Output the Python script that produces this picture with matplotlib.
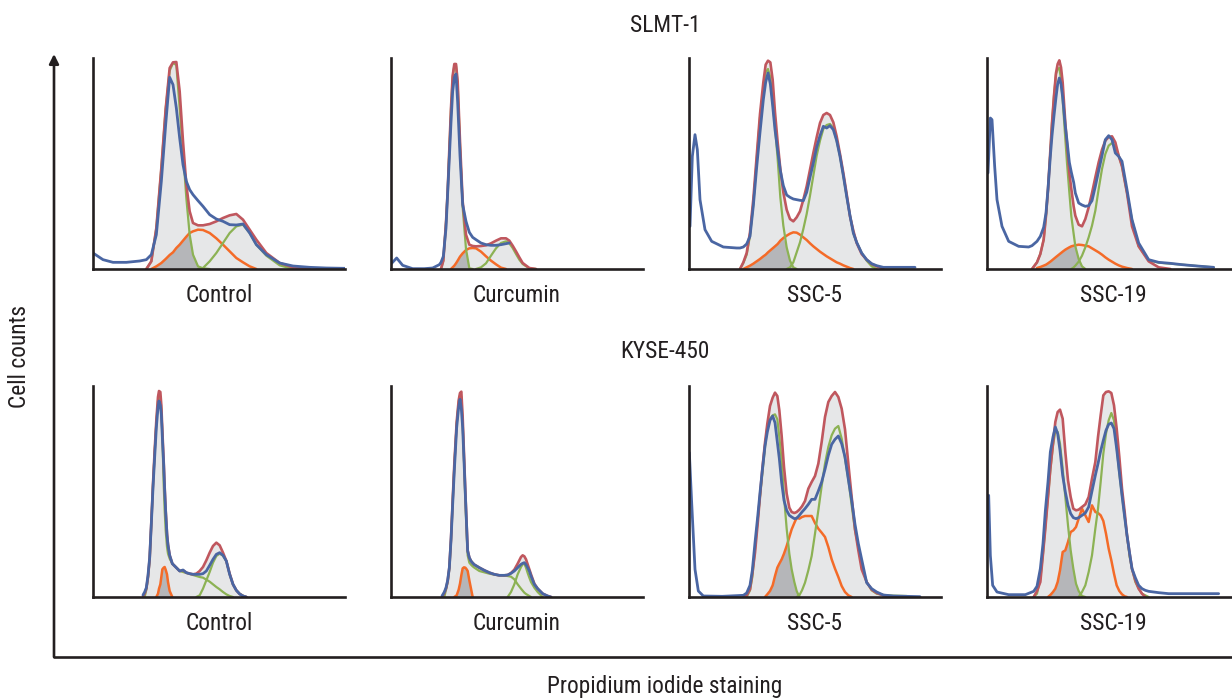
import numpy as np
import matplotlib
matplotlib.use('Agg')
import matplotlib.pyplot as plt
from matplotlib import font_manager
from matplotlib.lines import Line2D
from matplotlib.patches import FancyArrowPatch

# pick a condensed face if one is installed
installed = {f.name for f in font_manager.fontManager.ttflist}
narrow = [n for n in ['Liberation Sans Narrow', 'DejaVu Sans Condensed', 'Roboto Condensed',
                      'Open Sans Condensed', 'Noto Sans Condensed'] if n in installed]
plt.rcParams['font.family'] = narrow[:1] + ['DejaVu Sans']
stretch = 'normal' if narrow else 'condensed'

N = np.nan

# PI channel (x) and counts (y)
# --- SLMT-1, Control
slmt_ctrl_x = [0, 30, 60, 100, 140, 160, 175, 190, 205, 218, 230, 240, 250, 260, 270, 280, 290, 300, 315, 330,
               350, 370, 390, 410, 430, 450, 470, 490, 520, 560, 600, 650, 700, 756]
slmt_ctrl_blue = [48, 28, 20, 20, 24, 28, 43, 103, 263, 433, 575, 553, 483, 393, 313, 263, 238, 223, 205, 188,
                  163, 150, 143, 133, 132, 135, 108, 73, 43, 18, 9, 5, 3, 2]
slmt_ctrl_red = [N, N, N, N, N, 0, 23, 123, 303, 480, 603, 620, 621, 533, 383, 253, 173, 138, 131, 131,
                 135, 143, 153, 161, 165, 148, 118, 88, 48, 18, 5, 0, N, N]
slmt_ctrl_g1 = [N, N, N, N, N, 0, 23, 123, 303, 480, 595, 618, 612, 483, 353, 213, 103, 43, 8, 2,
                0, N, N, N, N, N, N, N, N, N, N, N, N, N]
slmt_ctrl_g2 = [N] * 18 + [0, 3, 23, 48, 78, 108, 128, 133, 108, 73, 40, 11, 0] + [N] * 3
slmt_ctrl_orange = [N] * 6 + [0, 8, 18, 30, 42, 50, 63, 73, 85, 97, 108, 113, 118, 117, 108, 92, 73, 53, 33, 20,
                              8, 0] + [N] * 6

# --- SLMT-1, Curcumin
slmt_curc_x = [0, 17, 35, 65, 100, 125, 145, 150, 157, 165, 170, 175, 180, 185, 190, 195, 200, 207, 215, 225,
               235, 245, 255, 270, 285, 300, 315, 330, 345, 355, 365, 375, 385, 395, 415, 435, 500, 600, 756]
slmt_curc_blue = [15, 33, 11, 1, 1, 3, 13, 20, 38, 123, 228, 333, 440, 533, 575, 585, 500, 340, 193, 143,
                  110, 95, 88, 78, 73, 71, 71, 73, 76, 78] + [N] * 9
slmt_curc_red = [N] * 7 + [0, 25, 140, 233, 360, 483, 580, 615, 615, 563, 383, 203, 103, 73, 69, 68, 69, 71, 77,
                           85, 92, 92, 85, 70, 53, 35, 18, 3, 0] + [N] * 3
slmt_curc_g1 = [N] * 7 + [0, 25, 140, 233, 358, 480, 575, 610, 610, 555, 372, 185, 60, 2, 0] + [N] * 17
slmt_curc_g2 = [N] * 22 + [0, 5, 17, 40, 62, 78, 83, 77, 63, 45, 28, 15, 2, 0] + [N] * 3
slmt_curc_orange = [N] * 12 + [0, 5, 10, 17, 25, 37, 47, 57, 62, 63, 62, 52, 38, 25, 14, 4, 0] + [N] * 10

# --- SLMT-1, SSC-5
slmt_ssc5_x = [3, 10, 18, 25, 33, 48, 68, 103, 143, 153, 163, 173, 183, 193, 203, 213, 223, 230, 237, 244,
               251, 258, 266, 274, 283, 293, 303, 313, 323, 333, 343, 353, 363, 373, 383, 393, 403, 413, 423, 433,
               443, 453, 463, 473, 483, 493, 503, 518, 533, 548, 563, 583, 630, 678]
slmt_ssc5_blue = [128, 338, 403, 358, 208, 118, 83, 66, 63, 63, 66, 75, 98, 190, 305, 410, 508, 560, 588, 555,
                  490, 418, 355, 295, 250, 222, 215, 210, 208, 206, 205, 230, 275, 318, 365, 400, 428, 423, 430, 418,
                  385, 338, 280, 218, 160, 108, 80, 48, 28, 16, 10, 5, 5, 5]
slmt_ssc5_red = [N] * 9 + [0, 20, 48, 110, 210, 338, 465, 560, 613, 625, 620, 568, 470, 380, 300, 230, 178, 150,
                           143, 155, 173, 208, 248, 298, 348, 395, 438, 462, 468, 462, 440, 398, 345, 288, 225,
                           158, 115, 78, 45, 28, 15, 8, 2] + [N] * 2
slmt_ssc5_g1 = [N] * 9 + [0, 18, 43, 100, 195, 328, 455, 540, 590, 600, 575, 500, 428, 330, 215, 130, 65, 25, 5,
                          0] + [N] * 25
slmt_ssc5_g2 = [N] * 25 + [0, 5, 20, 50, 80, 120, 165, 220, 280, 340, 385, 420, 432, 435, 423, 385, 338, 280,
                           218, 160, 108, 80, 48, 25, 8, 0] + [N] * 3
slmt_ssc5_orange = [N] * 10 + [0, 5, 10, 16, 23, 30, 38, 43, 50, 56, 62, 68, 75, 85, 93, 100, 106, 110, 109, 103,
                               95, 87, 77, 68, 60, 52, 45, 38, 32, 26, 20, 16, 11, 7, 3, 0] + [N] * 8

# --- SLMT-1, SSC-19
slmt_ssc19_x = [3, 10, 15, 23, 30, 45, 65, 95, 125, 135, 150, 160, 170, 177, 183, 190, 195, 201, 207, 212,
                217, 222, 227, 235, 240, 247, 253, 260, 265, 275, 285, 295, 305, 315, 325, 335, 345, 355, 365, 375,
                385, 395, 405, 420, 435, 455, 485, 515, 550, 585, 630, 680]
slmt_ssc19_blue = [288, 453, 448, 308, 208, 128, 83, 68, 66, 70, 83, 98, 125, 168, 240, 338, 400, 460, 515, 555,
                   573, 555, 515, 428, 385, 320, 290, 260, 228, 198, 192, 188, 190, 205, 248, 295, 340, 388, 400, 388,
                   348, 338, 323, 238, 148, 78, 28, 20, 17, 13, 9, 5]
slmt_ssc19_red = [N] * 9 + [0, 20, 45, 88, 160, 238, 355, 438, 520, 588, 615, 626, 605, 560, 438, 375, 288, 240,
                            188, 160, 133, 128, 150, 185, 228, 275, 320, 358, 385, 396, 398, 380, 340, 308, 228, 128,
                            68, 23, 5, 0] + [N] * 3
slmt_ssc19_g1 = [N] * 9 + [0, 20, 45, 88, 160, 238, 350, 438, 520, 585, 600, 603, 570, 508, 390, 318, 230, 158,
                           105, 68, 30, 8, 0] + [N] * 20
slmt_ssc19_g2 = [N] * 26 + [0, 5, 10, 22, 40, 65, 95, 130, 175, 240, 300, 345, 370, 378, 368, 340, 308, 228, 148,
                            68, 26, 19, 16, 13, 9, 5]
slmt_ssc19_orange = [N] * 10 + [3, 6, 10, 13, 17, 22, 26, 31, 36, 40, 44, 48, 52, 58, 61, 65, 68, 70, 71, 73, 72,
                                70, 68, 62, 56, 50, 43, 35, 28, 22, 16, 11, 7, 3, 0] + [N] * 7

# --- KYSE-450, Control
kyse_ctrl_x = [150, 155, 160, 165, 170, 175, 180, 185, 190, 195, 198, 202, 205, 208, 212, 215, 218, 222, 225, 230,
               238, 250, 260, 270, 280, 290, 300, 310, 320, 330, 340, 350, 360, 370, 380, 390, 400, 410, 420, 430,
               440, 450, 460]
kyse_ctrl_blue = [6, 15, 28, 65, 118, 220, 328, 420, 508, 570, 588, 575, 548, 480, 398, 320, 255, 185, 155, 125,
                  100, 88, 78, 81, 73, 70, 68, 68, 68, 70, 78, 95, 113, 128, 133, 125, 108, 68, 38, 20, 9, 3, 0]
kyse_ctrl_red = [3, 10, 25, 60, 115, 225, 340, 440, 530, 600, 618, 615, 575, 500, 410, 330, 262, 190, 158, 125,
                 100, 88, 78, 80, 73, 70, 68, 70, 78, 90, 110, 133, 153, 163, 155, 133, 108, 70, 38, 20, 9, 3, 0]
kyse_ctrl_g1 = [N, 0, 22, 58, 112, 222, 335, 435, 525, 590, 605, 595, 565, 490, 340, 260, 200, 150, 130, 115,
                100, 88, 78, 75, 72, 69, 66, 63, 60, 58, 52, 46, 38, 30, 23, 15, 8, 3, 0, N, N, N, N]
kyse_ctrl_g2 = [N] * 27 + [0, 5, 25, 50, 75, 103, 123, 130, 124, 108, 68, 38, 20, 10, 4, 0]
kyse_ctrl_orange = [N] * 8 + [0, 10, 25, 38, 60, 83, 88, 90, 82, 68, 45, 18, 0] + [N] * 22

# --- KYSE-450, Curcumin
kyse_curc_x = [153, 160, 165, 170, 175, 180, 185, 190, 197, 203, 207, 211, 215, 219, 223, 227, 230, 235, 240, 245,
               250, 265, 280, 295, 310, 325, 340, 350, 360, 370, 380, 390, 395, 400, 405, 410, 415, 420, 430, 440,
               455, 470, 480]
kyse_curc_blue = [3, 15, 28, 50, 88, 170, 278, 380, 508, 570, 593, 565, 508, 410, 308, 210, 138, 118, 108, 102,
                  97, 88, 80, 73, 68, 65, 65, 66, 71, 78, 88, 98, 101, 103, 97, 88, 78, 63, 38, 25, 10, 3, 0]
kyse_curc_red = [0, 12, 25, 48, 88, 175, 290, 400, 525, 590, 612, 616, 540, 430, 318, 215, 140, 118, 108, 102,
                 97, 88, 80, 73, 68, 65, 65, 66, 72, 82, 100, 120, 125, 122, 113, 98, 83, 68, 40, 25, 10, 3, 0]
kyse_curc_g1 = [N, 0, 22, 45, 85, 170, 285, 395, 520, 585, 605, 600, 520, 410, 290, 190, 125, 103, 97, 92,
                88, 78, 74, 70, 67, 65, 64, 63, 61, 53, 38, 25, 19, 13, 9, 6, 3, 0, N, N, N, N, N]
kyse_curc_g2 = [N] * 27 + [0, 15, 38, 68, 90, 98, 100, 88, 72, 58, 45, 28, 15, 0] + [N] * 2
kyse_curc_orange = [N] * 7 + [0, 5, 22, 40, 65, 86, 89, 88, 83, 78, 50, 25, 0] + [N] * 23

# --- KYSE-450, SSC-5
kyse_ssc5_x = [1, 8, 18, 28, 43, 100, 163, 173, 183, 190, 198, 206, 213, 220, 228, 235, 243, 251, 258, 265,
               271, 278, 285, 293, 301, 308, 316, 323, 331, 339, 348, 358, 368, 378, 388, 398, 408, 418, 428, 438,
               448, 458, 468, 478, 488, 498, 508, 518, 533, 548, 563, 583, 613, 653, 693]
kyse_ssc5_blue = [433, 283, 83, 18, 3, 2, 5, 12, 35, 80, 163, 240, 313, 380, 453, 495, 530, 543, 523, 465,
                  415, 343, 290, 260, 245, 240, 235, 236, 245, 255, 265, 278, 293, 293, 318, 345, 383, 425, 458, 473,
                  483, 460, 420, 353, 290, 218, 160, 113, 43, 25, 15, 6, 3, 2, 1]
kyse_ssc5_red = [N] * 6 + [0, 5, 23, 70, 133, 220, 303, 385, 463, 520, 573, 598, 613, 603, 560, 483, 390, 310,
                           268, 255, 252, 255, 262, 272, 288, 325, 345, 363, 400, 465, 540, 585, 603, 615, 600,
                           565, 503, 400, 300, 203, 140, 83, 45, 22, 12, 5, 0] + [N] * 2
kyse_ssc5_g1 = [N] * 7 + [0, 20, 60, 143, 230, 300, 370, 450, 513, 535, 545, 548, 533, 480, 410, 303, 205, 130,
                          83, 45, 18, 0] + [N] * 26
kyse_ssc5_g2 = [N] * 27 + [0, 5, 20, 43, 80, 123, 190, 260, 333, 400, 450, 485, 505, 513, 475, 415, 353, 275,
                           200, 150, 95, 45, 20, 10, 6, 4, 3] + [N]
kyse_ssc5_orange = [N] * 14 + [0, 8, 18, 35, 63, 88, 100, 113, 130, 153, 180, 203, 222, 238, 235, 240, 243, 243,
                               243, 222, 205, 193, 180, 150, 113, 85, 60, 33, 15, 5, 0] + [N] * 10

# --- KYSE-450, SSC-19
kyse_ssc19_x = [5, 10, 17, 30, 65, 115, 140, 150, 160, 168, 175, 183, 190, 198, 205, 212, 219, 227, 235, 243,
                251, 259, 267, 275, 285, 295, 305, 315, 325, 333, 341, 349, 357, 365, 373, 381, 389, 397, 405, 413,
                420, 428, 435, 445, 455, 465, 475, 485, 515, 545, 580, 615, 655, 695]
kyse_ssc19_blue = [305, 125, 35, 15, 7, 7, 17, 32, 85, 160, 258, 345, 435, 480, 510, 490, 440, 365, 315, 275,
                   250, 238, 235, 238, 245, 252, 270, 318, 365, 400, 438, 470, 500, 518, 522, 505, 445, 375, 305, 240,
                   185, 130, 85, 58, 35, 25, 20, 17, 13, 10, 10, 10, 10, 10]
kyse_ssc19_red = [N] * 6 + [0, 18, 45, 130, 205, 300, 385, 460, 525, 555, 562, 535, 435, 350, 300, 265, 260, 262,
                            270, 278, 300, 355, 405, 480, 545, 605, 615, 617, 612, 575, 505, 420, 325, 255, 185, 130,
                            85, 50, 25, 10, 0] + [N] * 7
kyse_ssc19_g1 = [N] * 6 + [0, 10, 55, 130, 210, 300, 380, 455, 498, 495, 460, 385, 300, 215, 140, 85, 40, 18, 3,
                           0] + [N] * 28
kyse_ssc19_g2 = [N] * 23 + [0, 15, 35, 75, 125, 205, 265, 345, 430, 490, 530, 552, 530, 450, 370, 305, 240, 185,
                            120, 85, 45, 25, 10, 5, 0] + [N] * 6
kyse_ssc19_orange = [N] * 11 + [0, 6, 15, 25, 45, 80, 135, 140, 165, 195, 200, 210, 235, 265, 245, 225, 275, 255,
                                252, 245, 228, 190, 145, 110, 70, 35, 18, 8, 2, 0] + [N] * 13

row_titles = ['SLMT-1', 'KYSE-450']
treatments = ['Control', 'Curcumin', 'SSC-5', 'SSC-19']

panels = [
    [(slmt_ctrl_x, slmt_ctrl_blue, slmt_ctrl_red, slmt_ctrl_g1, slmt_ctrl_g2, slmt_ctrl_orange),
     (slmt_curc_x, slmt_curc_blue, slmt_curc_red, slmt_curc_g1, slmt_curc_g2, slmt_curc_orange),
     (slmt_ssc5_x, slmt_ssc5_blue, slmt_ssc5_red, slmt_ssc5_g1, slmt_ssc5_g2, slmt_ssc5_orange),
     (slmt_ssc19_x, slmt_ssc19_blue, slmt_ssc19_red, slmt_ssc19_g1, slmt_ssc19_g2, slmt_ssc19_orange)],
    [(kyse_ctrl_x, kyse_ctrl_blue, kyse_ctrl_red, kyse_ctrl_g1, kyse_ctrl_g2, kyse_ctrl_orange),
     (kyse_curc_x, kyse_curc_blue, kyse_curc_red, kyse_curc_g1, kyse_curc_g2, kyse_curc_orange),
     (kyse_ssc5_x, kyse_ssc5_blue, kyse_ssc5_red, kyse_ssc5_g1, kyse_ssc5_g2, kyse_ssc5_orange),
     (kyse_ssc19_x, kyse_ssc19_blue, kyse_ssc19_red, kyse_ssc19_g1, kyse_ssc19_g2, kyse_ssc19_orange)],
]

c_blue = '#4a66a3'
c_red = '#c0575e'
c_green = '#8cb254'
c_orange = '#f46b28'
c_light = '#e6e7e8'
c_dark = '#b5b6b9'
c_axis = '#231f20'

W, H = 1232, 698
fig = plt.figure(figsize=(W / 100, H / 100), dpi=100)

lefts = [93, 391, 689, 987]
bottoms = [269, 597]
pw, ph = 252, 211
fs = 16.8

for r in range(2):
    for c in range(4):
        x, blue, red, g1, g2, orange = [np.array(a, dtype=float) for a in panels[r][c]]
        assert len(x) == len(blue) == len(red) == len(g1) == len(g2) == len(orange), (r, c)
        ax = fig.add_axes([lefts[c] / W, 1 - bottoms[r] / H, pw / W, ph / H])
        ax.fill_between(x, 0, np.nan_to_num(red), color=c_light, lw=0, zorder=1)
        dark = np.minimum(np.nan_to_num(orange), np.nan_to_num(g1))
        ax.fill_between(x, 0, dark, color=c_dark, lw=0, zorder=1.1)
        kw = dict(solid_joinstyle='round', solid_capstyle='round')
        ax.plot(x, orange, color=c_orange, lw=1.8, zorder=2, **kw)
        ax.plot(x, g1, color=c_green, lw=1.6, zorder=2.1, **kw)
        ax.plot(x, g2, color=c_green, lw=1.6, zorder=2.1, **kw)
        ax.plot(x, red, color=c_red, lw=1.9, zorder=2.2, **kw)
        ax.plot(x, blue, color=c_blue, lw=2.0, zorder=2.3, **kw)
        ax.set_xlim(0, 756)
        ax.set_ylim(0, 633)
        ax.set_xticks([])
        ax.set_yticks([])
        ax.patch.set_alpha(0)
        for s in ['top', 'right']:
            ax.spines[s].set_visible(False)
        for s in ['left', 'bottom']:
            ax.spines[s].set_linewidth(1.9)
            ax.spines[s].set_color(c_axis)
            ax.spines[s].set_zorder(3)
        ax.text(0.5, -27 / ph, treatments[c], transform=ax.transAxes, ha='center', va='center',
                fontsize=fs, fontstretch=stretch, color=c_axis)

fig.text(665 / W, 1 - 25 / H, row_titles[0], ha='center', va='center', fontsize=fs, fontstretch=stretch,
         color=c_axis)
fig.text(665 / W, 1 - 352 / H, row_titles[1], ha='center', va='center', fontsize=fs, fontstretch=stretch,
         color=c_axis)
fig.text(665 / W, 1 - 686 / H, 'Propidium iodide staining', ha='center', va='center', fontsize=fs,
         fontstretch=stretch, color=c_axis)
fig.text(20 / W, 1 - 357 / H, 'Cell counts', ha='center', va='center', rotation=90, fontsize=fs,
         fontstretch=stretch, color=c_axis)

# outer axes with arrow
fig.add_artist(Line2D([54 / W, W / W], [1 - 657 / H, 1 - 657 / H], transform=fig.transFigure,
                      color=c_axis, lw=1.9, solid_capstyle='round'))
fig.add_artist(FancyArrowPatch((54 / W, 1 - 657 / H), (54 / W, 1 - 54 / H), transform=fig.transFigure,
                               arrowstyle='-|>', mutation_scale=14, color=c_axis, lw=1.9,
                               shrinkA=0, shrinkB=0))

fig.savefig('out.png', dpi=100)
